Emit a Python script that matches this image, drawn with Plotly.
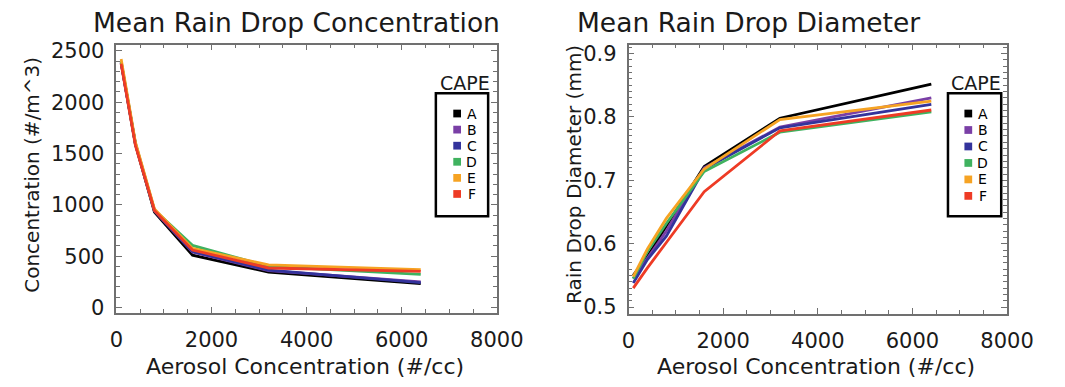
import plotly.graph_objects as go

# ---------------- data ----------------
aerosol = [100, 400, 800, 1600, 3200, 6400]
cape_labels = ["A", "B", "C", "D", "E", "F"]
cape_colors = ["#000000", "#7a3fa6", "#33339c", "#3fb25f", "#f6a323", "#ee3b25"]

conc_A = [2390, 1590, 930, 510, 345, 232]
conc_B = [2380, 1600, 940, 540, 360, 250]
conc_C = [2385, 1590, 945, 545, 365, 242]
conc_D = [2400, 1600, 950, 605, 400, 322]
conc_E = [2420, 1610, 960, 575, 415, 368]
conc_F = [2375, 1580, 945, 560, 385, 352]

diam_A = [0.550, 0.580, 0.628, 0.722, 0.798, 0.852]
diam_B = [0.545, 0.578, 0.620, 0.720, 0.784, 0.830]
diam_C = [0.538, 0.575, 0.612, 0.718, 0.783, 0.820]
diam_D = [0.545, 0.588, 0.632, 0.714, 0.776, 0.808]
diam_E = [0.548, 0.592, 0.640, 0.718, 0.796, 0.825]
diam_F = [0.530, 0.562, 0.602, 0.682, 0.778, 0.811]

conc_series = [conc_A, conc_B, conc_C, conc_D, conc_E, conc_F]
diam_series = [diam_A, diam_B, diam_C, diam_D, diam_E, diam_F]

x_ticks = [0, 2000, 4000, 6000, 8000]
conc_ticks = [0, 500, 1000, 1500, 2000, 2500]
diam_ticks = [0.5, 0.6, 0.7, 0.8, 0.9]

# ---------------- layout helpers ----------------
W, H = 1065, 387
def px(x):
    return x / W
def py(y):
    return 1 - y / H

FONT = "DejaVu Sans"
TXT = "#1a1a1a"
AXC = "#707070"

fig = go.Figure()
for lab, col, ys in zip(cape_labels, cape_colors, conc_series):
    fig.add_trace(go.Scatter(x=aerosol, y=ys, mode="lines", name=lab,
                             line=dict(color=col, width=2.8), showlegend=False,
                             xaxis="x", yaxis="y"))
for lab, col, ys in zip(cape_labels, cape_colors, diam_series):
    fig.add_trace(go.Scatter(x=aerosol, y=ys, mode="lines", name=lab,
                             line=dict(color=col, width=2.8), showlegend=False,
                             xaxis="x2", yaxis="y2"))

def xax(domain, anchor):
    return dict(domain=domain, anchor=anchor, range=[0, 8000], tickvals=x_ticks,
                ticks="inside", ticklen=6, tickwidth=1.2, tickcolor=AXC,
                minor=dict(dtick=500, ticks="inside", ticklen=4, tickcolor=AXC, tickwidth=1),
                showline=True, linecolor=AXC, linewidth=1.5, mirror="allticks",
                showgrid=False, zeroline=False, ticklabelstandoff=7,
                tickfont=dict(family=FONT, size=21, color=TXT))

def yax(domain, anchor, rng, tv, mdt, fmt):
    return dict(domain=domain, anchor=anchor, range=rng, tickvals=tv,
                ticktext=[fmt(v) for v in tv],
                ticks="inside", ticklen=6, tickwidth=1.2, tickcolor=AXC,
                minor=dict(dtick=mdt, ticks="inside", ticklen=4, tickcolor=AXC, tickwidth=1),
                showline=True, linecolor=AXC, linewidth=1.5, mirror="allticks",
                showgrid=False, zeroline=False, ticklabelstandoff=6,
                tickfont=dict(family=FONT, size=21, color=TXT))

fig.update_layout(
    width=W, height=H, margin=dict(l=0, r=0, t=0, b=0),
    paper_bgcolor="white", plot_bgcolor="white",
    xaxis=xax([px(113), px(506)], "y"),
    yaxis=yax([py(318), py(41)], "x", [-55, 2560], conc_ticks, 100, lambda v: str(v)),
    xaxis2=xax([px(642), px(1033)], "y2"),
    yaxis2=yax([py(319), py(41)], "x2", [0.489, 0.914], diam_ticks, 0.01, lambda v: f"{v:.1f}"),
)

ann = []
shapes = []

def note(text, x, y, size, angle=0, color=TXT):
    ann.append(dict(text=text, x=px(x), y=py(y), xref="paper", yref="paper",
                    xanchor="center", yanchor="middle", showarrow=False, textangle=angle,
                    font=dict(family=FONT, size=size, color=color)))

# titles
note("Mean Rain Drop Concentration", 299, 18, 26.5)
note("Mean Rain Drop Diameter", 766, 18, 26.5)
# axis titles
note("Aerosol Concentration (#/cc)", 308, 373, 22)
note("Aerosol Concentration (#/cc)", 836, 373, 22)
note("Concentration (#/m^3)", 25, 175, 20, angle=-90)
note("Rain Drop Diameter (mm)", 585, 175, 20, angle=-90)

# legends
legends = [dict(box=(443, 497), cape_x=473, sq_x=465, txt_x=480, y0=112, y1=195),
           dict(box=(972, 1027), cape_x=1001, sq_x=993, txt_x=1008, y0=112, y1=197)]
for lg in legends:
    bx0, bx1 = lg["box"]
    shapes.append(dict(type="rect", xref="paper", yref="paper", x0=px(bx0), x1=px(bx1),
                       y0=py(218), y1=py(91), line=dict(color="black", width=2.5),
                       fillcolor="white", layer="above"))
    note("CAPE", lg["cape_x"], 80, 19)
    n = len(cape_labels)
    step = (lg["y1"] - lg["y0"]) / (n - 1)
    for i, (lab, col) in enumerate(zip(cape_labels, cape_colors)):
        yc = lg["y0"] + i * step
        shapes.append(dict(type="rect", xref="paper", yref="paper",
                           x0=px(lg["sq_x"] - 4), x1=px(lg["sq_x"] + 4),
                           y0=py(yc + 4), y1=py(yc - 4), line=dict(width=0),
                           fillcolor=col, layer="above"))
        note(lab, lg["txt_x"], yc, 14, color="black")

fig.update_layout(annotations=ann, shapes=shapes)
fig.write_html("out.html")
